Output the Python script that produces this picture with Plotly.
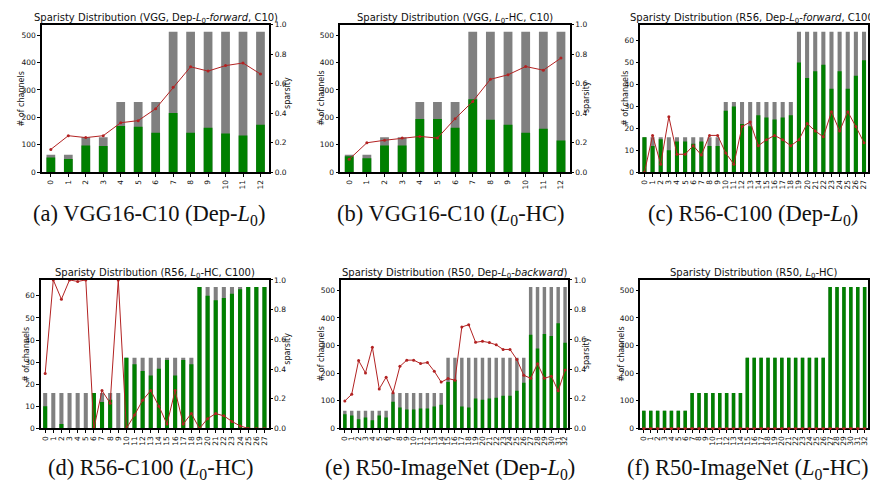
import plotly.graph_objects as go

W, H = 878, 486

# ---------------- data ----------------
vgg_total = [64, 64, 128, 128, 256, 256, 256, 512, 512, 512, 512, 512, 512]
vgg_labels = [str(i) for i in range(13)]

a_kept = [54, 48, 98, 96, 169, 166, 144, 216, 144, 162, 141, 134, 173]
a_sparsity = [0.155, 0.248, 0.235, 0.248, 0.336, 0.350, 0.431, 0.577, 0.715, 0.686, 0.723, 0.741, 0.666]

b_kept = [58, 51, 98, 98, 194, 194, 162, 266, 191, 173, 144, 159, 116]
b_sparsity = [0.088, 0.200, 0.217, 0.232, 0.243, 0.232, 0.363, 0.480, 0.630, 0.661, 0.717, 0.692, 0.774]

r56_total = [16, 16, 16, 16, 16, 16, 16, 16, 16, 16,
             32, 32, 32, 32, 32, 32, 32, 32, 32,
             64, 64, 64, 64, 64, 64, 64, 64, 64]
r56_labels = [str(i) for i in range(28)]

c_kept = [16, 12, 15, 10, 14, 14, 13, 14, 12, 12, 28, 30, 22, 21, 26, 25, 24, 25, 26,
          50, 43, 46, 49, 38, 46, 38, 44, 51]
c_sparsity = [0.0, 0.25, 0.055, 0.376, 0.122, 0.122, 0.18, 0.117, 0.25, 0.25, 0.13, 0.055,
              0.31, 0.34, 0.18, 0.22, 0.25, 0.22, 0.18, 0.22, 0.33, 0.28, 0.24, 0.41, 0.28,
              0.41, 0.31, 0.20]

d_kept = [10, 0, 2, 0, 0, 0, 16, 12, 13, 0, 32, 29, 26, 24, 27, 31, 24, 31, 29,
          64, 60, 58, 59, 61, 63, 64, 64, 64]
d_sparsity = [0.37, 1.0, 0.87, 1.0, 0.99, 1.0, 0.0, 0.255, 0.17, 1.0, 0.0, 0.09, 0.19,
              0.255, 0.15, 0.03, 0.255, 0.03, 0.10, 0.0, 0.066, 0.10, 0.085, 0.047,
              0.017, 0.0, 0.0, 0.0]

r50_total = [64, 64, 64, 64, 64, 64, 64,
             128, 128, 128, 128, 128, 128, 128, 128,
             256, 256, 256, 256, 256, 256, 256, 256, 256, 256, 256, 256,
             512, 512, 512, 512, 512, 512]
r50_labels = [str(i) for i in range(33)]

e_kept = [51, 47, 33, 40, 30, 47, 40, 97, 76, 69, 69, 72, 72, 79, 86, 168, 175, 79, 76,
          108, 104, 108, 111, 118, 118, 136, 165, 339, 289, 342, 335, 381, 310]
e_sparsity = [0.185, 0.23, 0.457, 0.374, 0.547, 0.266, 0.345, 0.24, 0.418, 0.46, 0.46,
              0.437, 0.444, 0.385, 0.312, 0.336, 0.325, 0.683, 0.699, 0.58, 0.587, 0.578,
              0.563, 0.532, 0.532, 0.464, 0.358, 0.338, 0.435, 0.338, 0.352, 0.253, 0.393]

f_kept = [64, 64, 64, 64, 64, 64, 64,
          128, 128, 128, 128, 128, 128, 128, 128,
          256, 256, 256, 256, 256, 256, 256, 256, 256, 256, 256, 256,
          512, 512, 512, 512, 512, 512]
f_sparsity = [0.0] * 33

big_ticks = [0, 100, 200, 300, 400, 500]
small_ticks = [0, 10, 20, 30, 40, 50, 60]
spars_ticks = [0.0, 0.2, 0.4, 0.6, 0.8, 1.0]

panels = [
    dict(title="Sparisty Distribution (VGG, Dep-<i>L</i><sub>0</sub>-<i>forward</i>, C10)",
         total=vgg_total, kept=a_kept, spars=a_sparsity, labels=vgg_labels, yt=big_ticks,
         box=(33.3, 13, 261.7, 163.3), ylab_x=13, slab_x=280,
         caption="(a) VGG16-C10 (Dep-<i>L</i><sub>0</sub>)", cap=(141, 207)),
    dict(title="Sparisty Distribution (VGG, <i>L</i><sub>0</sub>-HC, C10)",
         total=vgg_total, kept=b_kept, spars=b_sparsity, labels=vgg_labels, yt=big_ticks,
         box=(333.3, 13, 564, 163.3), ylab_x=314, slab_x=None,
         caption="(b) VGG16-C10 (<i>L</i><sub>0</sub>-HC)", cap=(444, 207)),
    dict(title="Sparisty Distribution (R56, Dep-<i>L</i><sub>0</sub>-<i>forward</i>, C100)",
         total=r56_total, kept=c_kept, spars=c_sparsity, labels=r56_labels, yt=small_ticks,
         box=(635, 13, 864, 163.3), ylab_x=620, slab_x=None,
         caption="(c) R56-C100 (Dep-<i>L</i><sub>0</sub>)", cap=(748, 207)),
    dict(title="Sparisty Distribution (R56, <i>L</i><sub>0</sub>-HC, C100)",
         total=r56_total, kept=d_kept, spars=d_sparsity, labels=r56_labels, yt=small_ticks,
         box=(32.3, 273, 261, 424.3), ylab_x=17, slab_x=280,
         caption="(d) R56-C100 (<i>L</i><sub>0</sub>-HC)", cap=(142, 466)),
    dict(title="Sparisty Distribution (R50, Dep-<i>L</i><sub>0</sub>-<i>backward</i>)",
         total=r50_total, kept=e_kept, spars=e_sparsity, labels=r50_labels, yt=big_ticks,
         box=(334.3, 273, 562.7, 424.3), ylab_x=314, slab_x=None,
         caption="(e) R50-ImageNet (Dep-<i>L</i><sub>0</sub>)", cap=(444, 466)),
    dict(title="Sparisty Distribution (R50, <i>L</i><sub>0</sub>-HC)",
         total=r50_total, kept=f_kept, spars=f_sparsity, labels=r50_labels, yt=big_ticks,
         box=(635, 273, 864, 424.3), ylab_x=616, slab_x=None,
         caption="(f) R50-ImageNet (<i>L</i><sub>0</sub>-HC)", cap=(743, 466)),
]

GREEN = "#008000"
GREY = "#808080"
RED = "#b22222"
FONT = "DejaVu Sans"
TICK_FONT = dict(family=FONT, size=7.5, color="#111111")


def fx(x):
    return x / W


def fy(y):
    return 1 - y / H


def ref(prefix, n):
    return prefix if n == 1 else f"{prefix}{n}"


fig = go.Figure()
layout = dict(width=W, height=H, margin=dict(l=0, r=0, t=0, b=0), autosize=False,
              paper_bgcolor="white", plot_bgcolor="white", showlegend=False,
              barmode="overlay", font=dict(family=FONT, color="#111111"))
annotations = []

for k, p in enumerate(panels, start=1):
    n = len(p["total"])
    idx = list(range(n))
    xr = ref("x", k)
    yl = ref("y", 2 * k - 1)
    yr = ref("y", 2 * k)
    x0, y0, x1, y1 = p["box"]

    fig.add_trace(go.Bar(x=idx, y=p["total"], width=0.5, marker=dict(color=GREY, line=dict(width=0)),
                         xaxis=xr, yaxis=yl, hoverinfo="skip"))
    fig.add_trace(go.Bar(x=idx, y=p["kept"], width=0.5, marker=dict(color=GREEN, line=dict(width=0)),
                         xaxis=xr, yaxis=yl, hoverinfo="skip"))
    fig.add_trace(go.Scatter(x=idx, y=p["spars"], mode="lines+markers",
                             line=dict(color=RED, width=1),
                             marker=dict(color=RED, size=3, symbol="circle"),
                             cliponaxis=False, xaxis=xr, yaxis=yr))

    ymax = max(p["total"]) * 1.05
    layout[ref("xaxis", k)] = dict(
        domain=[fx(x0), fx(x1)], anchor=yl, range=[-0.5, n - 0.5],
        tickmode="array", tickvals=idx, ticktext=p["labels"], tickangle=-90,
        ticks="outside", ticklen=3, tickwidth=1, tickcolor="black", tickfont=TICK_FONT,
        showline=True, linecolor="black", linewidth=1.5, mirror=True,
        showgrid=False, zeroline=False, layer="below traces" if k == 6 else "above traces")
    layout[ref("yaxis", 2 * k - 1)] = dict(
        domain=[fy(y1), fy(y0)], anchor=xr, range=[0, ymax],
        tickmode="array", tickvals=p["yt"], ticktext=[str(v) for v in p["yt"]],
        ticks="outside", ticklen=3, tickwidth=1, tickcolor="black", tickfont=TICK_FONT,
        showline=True, linecolor="black", linewidth=1.5, mirror=True,
        showgrid=False, zeroline=False)
    layout[ref("yaxis", 2 * k)] = dict(
        anchor=xr, overlaying=yl, side="right", range=[0, 1],
        tickmode="array", tickvals=spars_ticks, ticktext=[f"{v:.1f}" for v in spars_ticks],
        ticks="outside", ticklen=3, tickwidth=1, tickcolor="black", tickfont=TICK_FONT,
        showline=False, showgrid=False, zeroline=False)

    cx = (x0 + x1) / 2
    cy = (y0 + y1) / 2
    annotations.append(dict(text=p["title"], x=fx(cx), y=fy(y0 - 6.5), xref="paper", yref="paper",
                            xanchor="center", yanchor="middle", showarrow=False,
                            font=dict(family=FONT, size=10, color="#111111")))
    annotations.append(dict(text="# of channels", x=fx(p["ylab_x"]), y=fy(cy), xref="paper",
                            yref="paper", xanchor="center", yanchor="middle", showarrow=False,
                            textangle=-90, font=dict(family=FONT, size=8, color="#111111")))
    if p["slab_x"] is not None:
        annotations.append(dict(text="sparsity", x=fx(p["slab_x"]), y=fy(cy - 6), xref="paper",
                                yref="paper", xanchor="center", yanchor="middle", showarrow=False,
                                textangle=-90, font=dict(family=FONT, size=8, color="#111111")))
    annotations.append(dict(text=p["caption"], x=fx(p["cap"][0]), y=fy(p["cap"][1]), xref="paper",
                            yref="paper", xanchor="center", yanchor="middle", showarrow=False,
                            font=dict(family="Liberation Serif", size=22.5, color="#111111")))

# stray "sparsity" labels visible between the middle and right columns
for yc in (87, 348):
    annotations.append(dict(text="sparsity", x=fx(581), y=fy(yc), xref="paper", yref="paper",
                            xanchor="center", yanchor="middle", showarrow=False, textangle=-90,
                            font=dict(family=FONT, size=8, color="#111111")))

layout["annotations"] = annotations
fig.update_layout(**layout)
fig.write_html("out.html")
